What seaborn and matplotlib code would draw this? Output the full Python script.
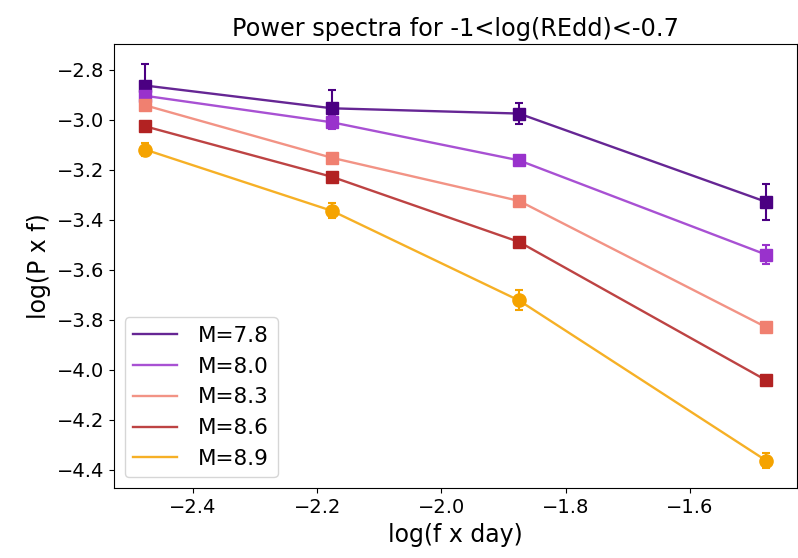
#!/usr/bin/env python
# coding: utf-8

# power spectra, 5 BH mass bins, one Eddington ratio bin

import numpy as np
import pandas as pd
import seaborn as sns
import matplotlib

matplotlib.use("Agg")
import matplotlib.pyplot as plt

plt.rcParams["font.family"] = ["DejaVu Sans"]
plt.rcParams["font.size"] = 14

# log frequency in 1/day (300, 150, 75, 30 day timescales)
log_f = [-2.477, -2.176, -1.875, -1.477]

mass_labels = ["M=7.8", "M=8.0", "M=8.3", "M=8.6", "M=8.9"]

pf_m78 = [-2.864, -2.955, -2.976, -3.329]
pf_m80 = [-2.905, -3.011, -3.163, -3.540]
pf_m83 = [-2.943, -3.153, -3.325, -3.830]
pf_m86 = [-3.027, -3.229, -3.489, -4.042]
pf_m89 = [-3.120, -3.365, -3.723, -4.363]

err_m78 = [0.085, 0.075, 0.042, 0.073]
err_m80 = [0.020, 0.025, 0.018, 0.038]
err_m83 = [0.015, 0.015, 0.015, 0.015]
err_m86 = [0.015, 0.015, 0.015, 0.015]
err_m89 = [0.025, 0.030, 0.040, 0.030]

colors = ["#4b0082", "#9932cc", "#f08070", "#b22222", "#f5a300"]
markers = ["s", "s", "s", "s", "o"]

values = [pf_m78, pf_m80, pf_m83, pf_m86, pf_m89]
errors = [err_m78, err_m80, err_m83, err_m86, err_m89]

df = pd.DataFrame(
    {
        "log_f": np.tile(log_f, len(mass_labels)),
        "log_pf": np.concatenate(values),
        "err": np.concatenate(errors),
        "mass": np.repeat(mass_labels, len(log_f)),
    }
)

fig, ax = plt.subplots(figsize=(7.98, 5.58), dpi=100)

sns.lineplot(
    data=df,
    x="log_f",
    y="log_pf",
    hue="mass",
    hue_order=mass_labels,
    palette=dict(zip(mass_labels, colors)),
    linewidth=1.7,
    alpha=0.85,
    ax=ax,
)

# markers + error bars on top, no legend entry for them
for lab, col, mk in zip(mass_labels, colors, markers):
    sub = df[df["mass"] == lab]
    ax.errorbar(
        sub["log_f"],
        sub["log_pf"],
        yerr=sub["err"],
        fmt=mk,
        color=col,
        ms=9.5 if mk == "o" else 8.5,
        capsize=3,
        elinewidth=1.5,
        capthick=1.5,
        zorder=3,
    )

sns.move_legend(ax, "lower left", title=None, fontsize=15.5, handletextpad=1.0)

ax.set_title("Power spectra for -1<log(REdd)<-0.7", fontsize=17.3)
ax.set_xlabel("log(f x day)", fontsize=17)
ax.set_ylabel("log(P x f)", fontsize=17)
ax.tick_params(labelsize=14)

fig.subplots_adjust(left=0.143, right=0.999, top=0.921, bottom=0.125)
fig.savefig("out.png", dpi=100)
